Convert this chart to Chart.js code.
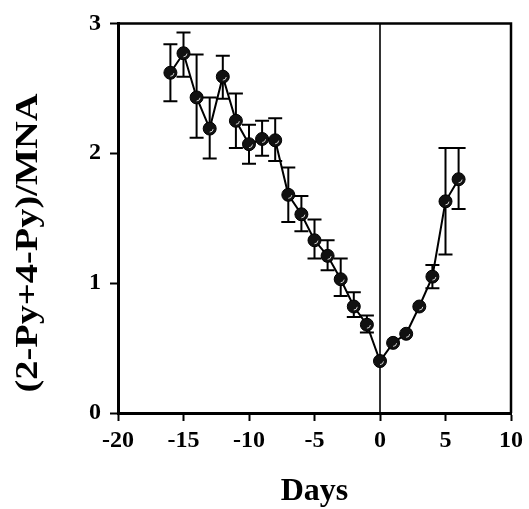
<!DOCTYPE html>
<html>
<head>
<meta charset="utf-8">
<script src="https://cdn.jsdelivr.net/npm/chart.js@4"></script>
<style>
  body { margin:0; background:#fff; }
  #wrap { width:529px; height:509px; }
</style>
</head>
<body>
<div id="wrap"><canvas id="line-chart"></canvas></div>
<script>
// days relative to the event (day 0)
var days = [-16,-15,-14,-13,-12,-11,-10,-9,-8,-7,-6,-5,-4,-3,-2,-1,0,1,2,3,4,5,6];
// (2-Py+4-Py)/MNA mean values
var ratio = [2.62,2.77,2.43,2.19,2.59,2.25,2.07,2.11,2.10,1.68,1.53,1.33,1.21,1.03,0.82,0.68,0.40,0.54,0.61,0.82,1.05,1.63,1.80];
// error bar ends (null = hidden under the marker)
var errHigh = [2.84,2.93,2.76,2.43,2.75,2.46,2.22,2.25,2.27,1.89,1.67,1.49,1.33,1.19,0.93,0.75,null,null,null,null,1.14,2.04,2.04];
var errLow  = [2.40,2.59,2.12,1.96,2.42,2.04,1.92,1.98,1.94,1.47,1.40,1.19,1.10,0.90,0.74,0.62,null,null,null,null,0.96,1.22,1.57];
var xTicks = [-20,-15,-10,-5,0,5,10];
var yTicks = [0,1,2,3];
var yTitle = '(2-Py+4-Py)/MNA';

var points = [];
for (var i = 0; i < days.length; i++) {
  points.push({x: days[i], y: ratio[i]});
}

var serif = "'Liberation Serif','Times New Roman',serif";

// error bars, zero line, box and y title
var extras = {
  id: 'extras',
  beforeDatasetsDraw: function(chart) {
    var ctx = chart.ctx, xs = chart.scales.x, ys = chart.scales.y, a = chart.chartArea;
    ctx.save();
    ctx.strokeStyle = '#000';
    // vertical line at day 0
    ctx.lineWidth = 1.6;
    var x0 = xs.getPixelForValue(0);
    ctx.beginPath(); ctx.moveTo(x0, a.top); ctx.lineTo(x0, a.bottom); ctx.stroke();
    // error bars
    ctx.lineWidth = 2;
    for (var i = 0; i < days.length; i++) {
      if (errHigh[i] == null) continue;
      var px = xs.getPixelForValue(days[i]);
      var hi = ys.getPixelForValue(errHigh[i]);
      var lo = ys.getPixelForValue(errLow[i]);
      ctx.beginPath();
      ctx.moveTo(px, hi); ctx.lineTo(px, lo);
      ctx.moveTo(px - 7, hi); ctx.lineTo(px + 7, hi);
      ctx.moveTo(px - 7, lo); ctx.lineTo(px + 7, lo);
      ctx.stroke();
    }
    ctx.restore();
  },
  afterDatasetsDraw: function(chart) {
    var ctx = chart.ctx, a = chart.chartArea;
    var meta = chart.getDatasetMeta(0);
    ctx.save();
    // little highlight on the markers
    ctx.strokeStyle = 'rgba(255,255,255,0.8)';
    ctx.lineWidth = 1;
    meta.data.forEach(function(p) {
      ctx.beginPath();
      ctx.arc(p.x, p.y, 3.5, 0.1, Math.PI / 2);
      ctx.stroke();
    });
    // top and right frame
    ctx.strokeStyle = '#000';
    ctx.lineWidth = 2.5;
    ctx.beginPath();
    ctx.moveTo(a.left, a.top); ctx.lineTo(a.right, a.top); ctx.lineTo(a.right, a.bottom);
    ctx.stroke();
    // y axis title, a bit stretched like the printed figure
    ctx.translate(29, 243);
    ctx.rotate(-Math.PI / 2);
    ctx.scale(1.2, 1);
    ctx.fillStyle = '#000';
    ctx.font = 'bold 32px ' + serif;
    ctx.textAlign = 'center';
    ctx.textBaseline = 'middle';
    ctx.fillText(yTitle, 0, 0);
    ctx.restore();
  }
};

new Chart(document.getElementById("line-chart"), {
  type: 'line',
  data: {
    datasets: [{
      data: points,
      borderColor: '#000',
      borderWidth: 2,
      pointRadius: 6.5,
      pointBackgroundColor: '#111',
      pointBorderColor: '#000',
      pointBorderWidth: 1,
      tension: 0
    }]
  },
  options: {
    responsive: true,
    maintainAspectRatio: false,
    animation: false,
    layout: { padding: { top: 20, right: 18, left: 0, bottom: 0 } },
    plugins: { legend: { display: false }, tooltip: { enabled: false } },
    scales: {
      x: {
        type: 'linear',
        min: -20, max: 10,
        afterBuildTicks: function(s) { s.ticks = xTicks.map(function(v) { return {value: v}; }); },
        afterFit: function(s) { s.height = 96; },
        ticks: { color: '#000', padding: 5, font: { family: serif, size: 24, weight: 'bold' } },
        grid: { drawOnChartArea: false, tickLength: 8, tickWidth: 2, tickColor: '#000' },
        border: { display: true, color: '#000', width: 3 },
        title: { display: true, text: 'Days', color: '#000', padding: 1,
                 font: { family: serif, size: 32, weight: 'bold', lineHeight: 1 } }
      },
      y: {
        min: 0, max: 3,
        afterBuildTicks: function(s) { s.ticks = yTicks.map(function(v) { return {value: v}; }); },
        afterFit: function(s) { s.width = 118; },
        ticks: { color: '#000', padding: 9, font: { family: serif, size: 24, weight: 'bold' } },
        grid: { drawOnChartArea: false, tickLength: 8, tickWidth: 2, tickColor: '#000' },
        border: { display: true, color: '#000', width: 3 }
      }
    }
  },
  plugins: [extras]
});
</script>
</body>
</html>
